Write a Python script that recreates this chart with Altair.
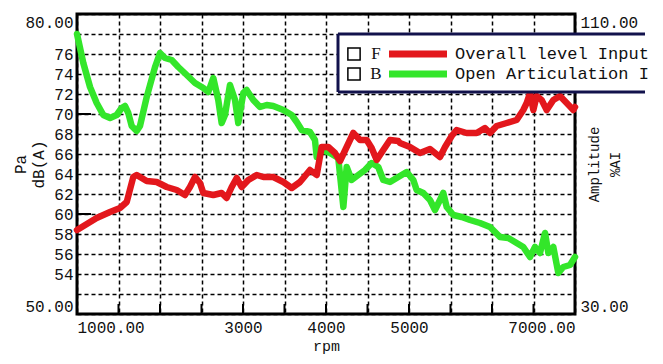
import altair as alt
import pandas as pd

# ---- data ----
rpm_red = [1000, 1237, 1398, 1518, 1599, 1678, 1719, 1840, 1960, 2081, 2201, 2301, 2361, 2422,
           2482, 2522, 2642, 2743, 2803, 2864, 2924, 2984, 3064, 3165, 3245, 3365, 3486, 3587,
           3687, 3807, 3888, 3948, 4028, 4108, 4169, 4249, 4329, 4410, 4490, 4550, 4611, 4690,
           4771, 4871, 4891, 5012, 5132, 5253, 5373, 5434, 5514, 5574, 5694, 5815, 5915, 5976,
           6056, 6177, 6297, 6377, 6418, 6458, 6498, 6538, 6598, 6659, 6739, 6819, 6900, 6980, 7000]
db_red = [58.4, 59.6, 60.2, 60.6, 61.2, 63.7, 63.9, 63.3, 63.2, 62.7, 62.4, 61.9, 62.7, 63.7,
          63.1, 62.1, 61.9, 62.1, 61.6, 62.7, 63.6, 62.7, 63.4, 63.9, 63.7, 63.7, 63.2, 62.6,
          63.2, 64.4, 63.9, 66.7, 66.7, 66.1, 65.3, 66.7, 68.1, 67.4, 67.4, 66.6, 65.4, 66.4,
          67.4, 67.3, 67.1, 66.7, 66.1, 66.5, 65.7, 66.7, 67.8, 68.4, 68.1, 68.1, 68.6, 68.1,
          68.8, 69.1, 69.4, 70.4, 71.1, 72.1, 70.4, 71.8, 71.4, 70.4, 71.4, 71.8, 71.1, 70.4, 70.7]

rpm_green = [1000, 1076, 1157, 1237, 1317, 1398, 1478, 1538, 1578, 1618, 1659, 1719, 1759, 1840,
             1940, 2000, 2060, 2141, 2220, 2322, 2422, 2522, 2582, 2642, 2702, 2743, 2783, 2843,
             2904, 2943, 3004, 3044, 3124, 3205, 3285, 3365, 3486, 3587, 3647, 3707, 3807, 3867,
             3888, 3948, 4048, 4148, 4209, 4249, 4309, 4389, 4470, 4550, 4630, 4690, 4771, 4871,
             4972, 5052, 5092, 5172, 5253, 5313, 5373, 5413, 5454, 5534, 5635, 5735, 5855, 5976,
             6096, 6196, 6297, 6377, 6458, 6518, 6578, 6639, 6679, 6739, 6799, 6859, 6940, 7000]
db_green = [78.0, 75.1, 72.7, 71.1, 69.9, 69.6, 69.9, 70.6, 70.8, 70.1, 68.8, 68.3, 68.8, 71.7,
            74.7, 76.1, 75.6, 75.4, 74.7, 73.9, 73.1, 72.6, 72.2, 73.6, 71.4, 69.1, 69.9, 72.9,
            71.4, 69.1, 72.1, 72.4, 71.4, 70.7, 70.9, 70.8, 70.4, 69.9, 69.2, 68.4, 68.2, 67.4,
            65.7, 66.4, 66.1, 65.6, 60.7, 64.7, 63.4, 63.9, 64.4, 65.1, 64.7, 63.4, 63.2, 63.7,
            64.2, 63.4, 62.4, 62.1, 61.4, 60.4, 61.4, 62.1, 60.7, 59.9, 59.7, 59.4, 59.1, 58.7,
            57.7, 57.6, 57.1, 56.7, 55.7, 56.7, 56.1, 58.1, 56.1, 56.7, 54.1, 54.7, 54.9, 55.7]

series_names = ["Overall level Input", "Open Articulation I"]
series_letters = ["F", "B"]
series_colors = ["#e3171c", "#33e62a"]

x_grid = list(range(1000, 7001, 500))
x_labels = {1000: "1000.00", 3000: "3000", 4000: "4000", 5000: "5000", 7000: "7000.00"}
y_grid = list(range(50, 81, 2))
y_labels = {50: "50.00", 54: "54", 56: "56", 58: "58", 60: "60", 62: "62", 64: "64", 66: "66",
            68: "68", 70: "70", 72: "72", 74: "74", 76: "76", 80: "80.00"}
y_major = [60, 70]
right_ticks = [30, 110]
right_labels = {30: "30.00", 110: "110.00"}

MONO = "Liberation Mono"
SERIF = "Liberation Serif"
NAVY = "#12124c"
TXT = "#111111"


def label_expr(d):
    return " : ".join(f"datum.value == {k} ? '{v}'" for k, v in d.items()) + " : ''"


df_red = pd.DataFrame({"rpm": rpm_red, "db": db_red})
df_green = pd.DataFrame({"rpm": rpm_green, "db": db_green})

xscale = alt.Scale(domain=[1000, 7000], nice=False, zero=False)
yscale = alt.Scale(domain=[50, 80], nice=False, zero=False)

x_axis = alt.Axis(values=x_grid, labelExpr=label_expr(x_labels), grid=True, gridDash=[4, 3],
                  gridColor="black", gridWidth=1.5, gridOpacity=1, ticks=False, domain=False,
                  labelFont=MONO, labelFontSize=16, labelColor=TXT, labelPadding=5,
                  labelFlush=True, labelOverlap=False, title="rpm", titleFont=MONO,
                  titleFontSize=15, titleFontWeight="normal", titleColor=TXT, titlePadding=3)

y_axis = alt.Axis(values=y_grid, labelExpr=label_expr(y_labels), grid=True, gridDash=[4, 3],
                  gridColor="black", gridWidth=1.5, gridOpacity=1, ticks=False, domain=False,
                  orient="left", labelFont=MONO, labelFontSize=16, labelColor=TXT,
                  labelPadding=4, labelFlush=True, labelOverlap=False,
                  title=["Pa", "dB(A)"], titleFont=MONO, titleFontSize=16,
                  titleFontWeight="normal", titleColor=TXT, titleAngle=-90, titleX=-57,
                  titleY=150, titleAlign="center", titleBaseline="middle", titleLineHeight=18)

green = alt.Chart(df_green).mark_line(color=series_colors[1], strokeWidth=6.5, strokeJoin="round",
                                      strokeCap="round").encode(
    x=alt.X("rpm:Q", scale=xscale, axis=x_axis),
    y=alt.Y("db:Q", scale=yscale, axis=None))

red = alt.Chart(df_red).mark_line(color=series_colors[0], strokeWidth=6.5, strokeJoin="round",
                                  strokeCap="round").encode(
    x=alt.X("rpm:Q", scale=xscale, axis=x_axis),
    y=alt.Y("db:Q", scale=yscale, axis=y_axis))

left_ticks = alt.Chart(pd.DataFrame({"db": y_major})).mark_rule(color="black", strokeWidth=2).encode(
    x=alt.value(0), x2=alt.value(14), y=alt.Y("db:Q", scale=yscale, axis=None))

bottom_ticks = alt.Chart(pd.DataFrame({"rpm": x_grid[1:-1]})).mark_rule(color="black", strokeWidth=2).encode(
    x=alt.X("rpm:Q", scale=xscale, axis=x_axis), y=alt.value(300), y2=alt.value(290))

right = alt.Chart(pd.DataFrame({"amp": right_ticks})).mark_point(opacity=0).encode(
    x=alt.value(0),
    y=alt.Y("amp:Q", scale=alt.Scale(domain=[30, 110], nice=False, zero=False),
            axis=alt.Axis(orient="right", values=right_ticks, labelExpr=label_expr(right_labels),
                          grid=False, ticks=False, domain=False, labelFlush=True,
                          labelOverlap=False, labelPadding=5, labelFont=MONO, labelFontSize=16,
                          labelColor=TXT, title=["Amplitude", "%AI"], titleFont=MONO,
                          titleFontSize=14, titleFontWeight="normal", titleColor=TXT,
                          titleAngle=-90, titleX=19, titleY=150, titleAlign="center",
                          titleBaseline="middle", titleLineHeight=21)))

one = pd.DataFrame({"k": [0]})
legend_layers = [
    alt.Chart(one).mark_rect(color="white").encode(
        x=alt.value(261), x2=alt.value(568), y=alt.value(20), y2=alt.value(78)),
    alt.Chart(one).mark_rule(color=NAVY, strokeWidth=3).encode(
        x=alt.value(261), x2=alt.value(568), y=alt.value(20)),
    alt.Chart(one).mark_rule(color=NAVY, strokeWidth=3).encode(
        x=alt.value(261), x2=alt.value(568), y=alt.value(78)),
    alt.Chart(one).mark_rule(color=NAVY, strokeWidth=3).encode(
        x=alt.value(261), y=alt.value(20), y2=alt.value(78)),
]
for i, (name, letter, col) in enumerate(zip(series_names, series_letters, series_colors)):
    yy = 40 + 20 * i
    legend_layers += [
        alt.Chart(one).mark_point(shape="square", filled=False, size=150, color="black",
                                  strokeWidth=1.5, opacity=1).encode(
            x=alt.value(277), y=alt.value(yy)),
        alt.Chart(one).mark_text(font=SERIF, fontSize=17, align="center", baseline="middle",
                                 color=TXT).encode(
            x=alt.value(299), y=alt.value(yy), text=alt.value(letter)),
        alt.Chart(one).mark_rule(color=col, strokeWidth=7).encode(
            x=alt.value(312), x2=alt.value(370), y=alt.value(yy)),
        alt.Chart(one).mark_text(font=MONO, fontSize=17, align="left", baseline="middle",
                                 color=TXT).encode(
            x=alt.value(378), y=alt.value(yy), text=alt.value(name)),
    ]

chart = alt.layer(green, red, left_ticks, bottom_ticks, right, *legend_layers).resolve_scale(
    y="independent"
).properties(
    width=498, height=300,
    padding={"left": 69, "top": 6, "right": 80, "bottom": 42},
    autosize=alt.AutoSizeParams(type="none"),
    background="white",
).configure_view(stroke="black", strokeWidth=3)

chart.save("out.html", embed_options={"renderer": "svg", "actions": False})
